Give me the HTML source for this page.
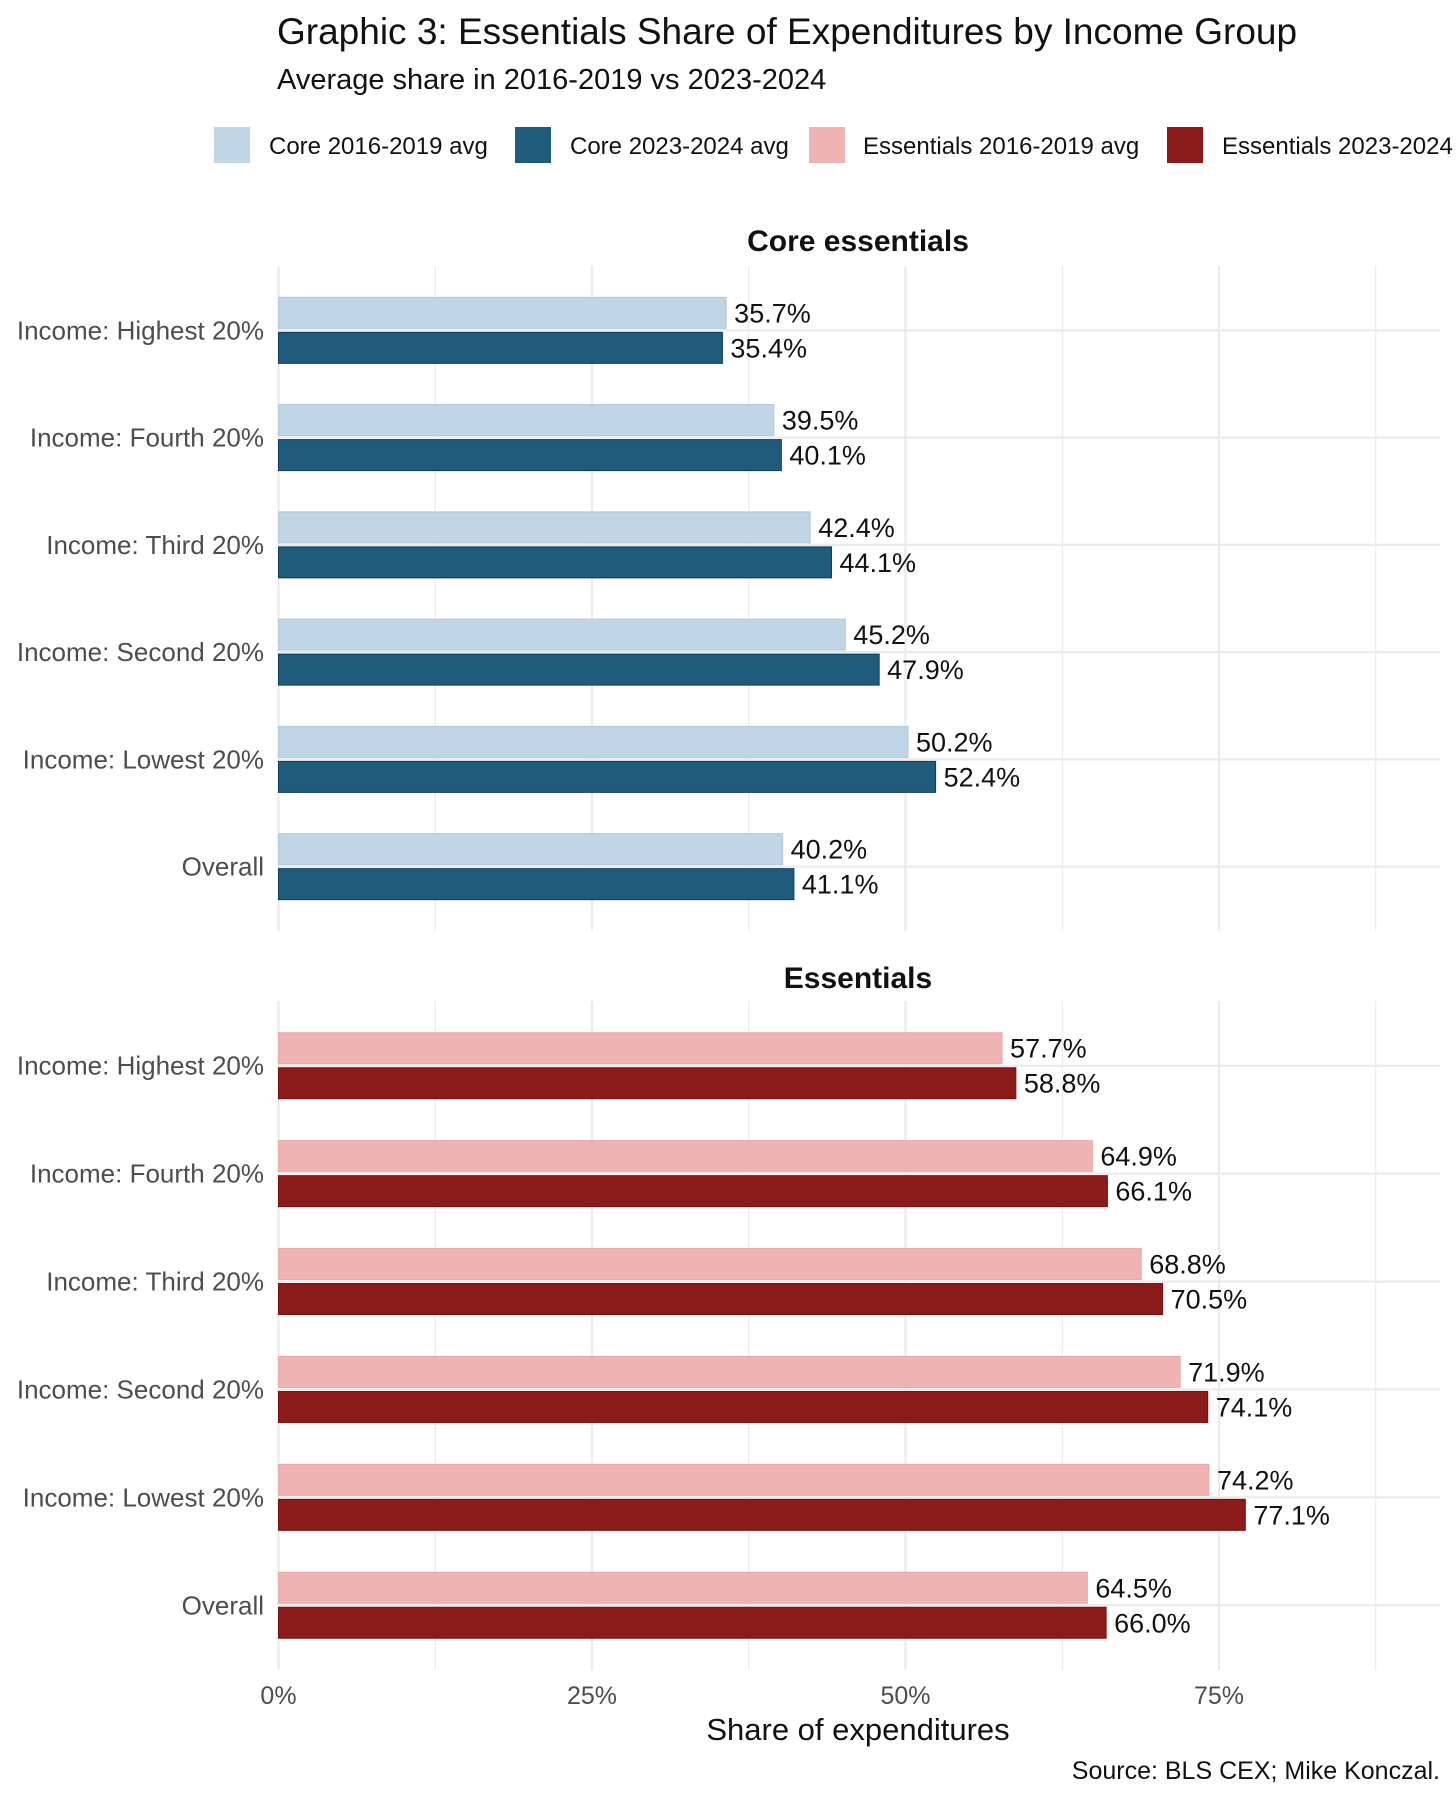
<!DOCTYPE html>
<html><head><meta charset="utf-8"><style>
html,body{margin:0;padding:0;background:#fff;overflow:hidden;width:1456px;height:1799px}
svg{display:block;font-family:"Liberation Sans",Arial,sans-serif}
</style></head><body>
<svg id="chart" width="1456" height="1799" viewBox="0 0 1456 1799" xmlns="http://www.w3.org/2000/svg">
<text x="277" y="44" font-size="37" fill="#111">Graphic 3: Essentials Share of Expenditures by Income Group</text>
<text x="277" y="89" font-size="29" fill="#111">Average share in 2016-2019 vs 2023-2024</text>
<g>
<rect x="214" y="127" width="36" height="36" fill="#c0d5e6"/>
<text x="269" y="154" font-size="24" fill="#111">Core 2016-2019 avg</text>
<rect x="515" y="127" width="36" height="36" fill="#1f5c7c"/>
<text x="570" y="154" font-size="24" fill="#111">Core 2023-2024 avg</text>
<rect x="809" y="127" width="36" height="36" fill="#f0b3b3"/>
<text x="863" y="154" font-size="24" fill="#111">Essentials 2016-2019 avg</text>
<rect x="1167" y="127" width="36" height="36" fill="#8b1a1a"/>
<text x="1222" y="154" font-size="24" fill="#111">Essentials 2023-2024 avg</text>
</g>
<text x="858" y="251" font-size="30" font-weight="bold" text-anchor="middle" fill="#111">Core essentials</text>
<text x="858" y="988" font-size="30" font-weight="bold" text-anchor="middle" fill="#111">Essentials</text>
<g id="plots"></g>
<text x="858" y="1740" font-size="31" text-anchor="middle" fill="#111">Share of expenditures</text>
<text x="1440" y="1779" font-size="25" text-anchor="end" fill="#111">Source: BLS CEX; Mike Konczal.</text>
</svg>
<script>
const categories=["Income: Highest 20%","Income: Fourth 20%","Income: Third 20%","Income: Second 20%","Income: Lowest 20%","Overall"];
const coreOld=[35.7,39.5,42.4,45.2,50.2,40.2];
const coreNew=[35.4,40.1,44.1,47.9,52.4,41.1];
const essOld=[57.7,64.9,68.8,71.9,74.2,64.5];
const essNew=[58.8,66.1,70.5,74.1,77.1,66.0];
const majorTicks=[0,25,50,75];
const minorTicks=[12.5,37.5,62.5,87.5];
const tickLabels=["0%","25%","50%","75%"];

const NS="http://www.w3.org/2000/svg";
const x0=278.5, pxPer=12.54, xRight=1440;
const xs=v=>x0+v*pxPer;
function mk(tag,attrs,parent){const e=document.createElementNS(NS,tag);for(const k in attrs)e.setAttribute(k,attrs[k]);parent.appendChild(e);return e;}
const g=document.getElementById('plots');

function panel(name,top,bottom,oldV,newV,cOld,cNew,sOld,sNew){
  const pg=mk('g',{},g);
  
  
  const n=categories.length;
  const step=(bottom-top)/(n-1+1.2);
  const ys=i=>top+step*(0.6+i);
  minorTicks.forEach(t=>{const l=mk('line',{x1:xs(t),x2:xs(t),y1:top,y2:bottom,stroke:'#ebebeb','stroke-width':1.2},pg);
    
    });
  majorTicks.forEach(t=>{const l=mk('line',{x1:xs(t),x2:xs(t),y1:top,y2:bottom,stroke:'#ebebeb','stroke-width':2.2},pg);
    
    });
  categories.forEach((c,i)=>{
    const y=ys(i);
    const l=mk('line',{x1:x0,x2:xRight,y1:y,y2:y,stroke:'#ebebeb','stroke-width':2.2},pg);
    
    
    const lab=mk('text',{x:264,y:y+9,'font-size':26,'text-anchor':'end',fill:'#4d4d4d'},pg);
    lab.textContent=c;
    
    
    const b1=mk('rect',{x:x0,y:y-33,width:xs(oldV[i])-x0,height:31,fill:cOld,stroke:sOld,'stroke-width':1},pg);
    
    
    const b2=mk('rect',{x:x0,y:y+2,width:xs(newV[i])-x0,height:31,fill:cNew,stroke:sNew,'stroke-width':1},pg);
    
    
    const t1=mk('text',{x:xs(oldV[i])+8,y:y-8,'font-size':27,fill:'#111'},pg);
    t1.textContent=oldV[i].toFixed(1)+'%';
    
    
    const t2=mk('text',{x:xs(newV[i])+8,y:y+27,'font-size':27,fill:'#111'},pg);
    t2.textContent=newV[i].toFixed(1)+'%';
    
    
  });
}
panel('core',266,931,coreOld,coreNew,'#c0d5e6','#1f5c7c','#b0c8dc','#0f3d5c');
panel('essentials',1001,1670,essOld,essNew,'#f0b3b3','#8b1a1a','#e8a8a8','#7a1010');
majorTicks.forEach((t,i)=>{
  const tx=mk('text',{x:xs(t),y:1704,'font-size':25,'text-anchor':'middle',fill:'#4d4d4d'},g);
  tx.textContent=tickLabels[i];
  
  
});
</script>
</body></html>
